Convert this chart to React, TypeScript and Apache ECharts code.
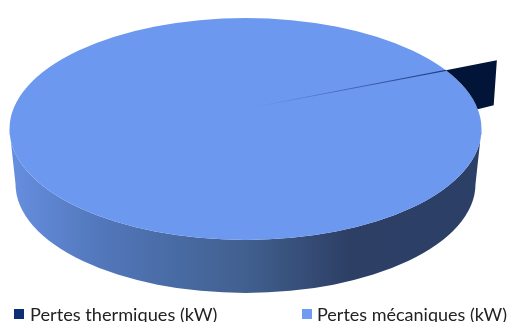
import React, { useEffect, useRef } from "react";
import * as echarts from "echarts";

const seriesNames = ["Pertes thermiques (kW)", "Pertes mécaniques (kW)"];
const seriesValues = [6, 94];
const legendColors = ["#0b2e75", "#6f9cf2"];

const CX = 245.5, CY = 129, RX = 236, RY = 111;
const BOTTOM_CY = 184, BOTTOM_RX = 230, BOTTOM_RY = 109;
const START_DEG = -31.9; // rim angle where the first slice begins (ellipse parameter)
const FULL = seriesValues.reduce((a, b) => a + b, 0);

function pt(deg: number): [number, number] {
  const a = (deg * Math.PI) / 180;
  return [CX + RX * Math.cos(a), CY + RY * Math.sin(a)];
}

function thermal() {
  const a0 = START_DEG;
  const a1 = a0 + (seriesValues[0] / FULL) * 360;
  const A = pt(a0), D = pt(a1);
  const B = [A[0] + 51, A[1] - 10];
  const C = [D[0] + 16, D[1] - 4];
  const hub = [252, 107.5];
  const wedge =
    `M${A[0]} ${A[1]} L${B[0]} ${B[1]} L${C[0]} ${C[1]} L${D[0]} ${D[1]} ` +
    `A${RX} ${RY} 0 0 0 ${A[0]} ${A[1]} Z`;
  return {
    type: "group",
    children: [
      {
        type: "path",
        shape: { pathData: wedge, x: A[0], y: B[1], width: B[0] - A[0], height: D[1] - B[1] },
        style: { fill: "#021438" },
      },
      {
        type: "polygon",
        shape: { points: [[hub[0], hub[1] - 0.15], [A[0], A[1] - 0.6], [A[0], A[1] + 0.6], [hub[0], hub[1] + 0.15]] },
        style: {
          fill: new echarts.graphic.LinearGradient(
            hub[0], 0, A[0], 0,
            [
              { offset: 0, color: "#6c98f0" },
              { offset: 0.5, color: "#4263b0" },
              { offset: 1, color: "#1c3a80" },
            ],
            true
          ),
        },
      },
    ],
  };
}

function mechanical() {
  const [lx, ly] = pt(180);
  const [rx, ry] = pt(0);
  const blx = CX - BOTTOM_RX, brx = CX + BOTTOM_RX;
  const side =
    `M${lx} ${ly} L${blx} ${BOTTOM_CY} ` +
    `A${BOTTOM_RX} ${BOTTOM_RY} 0 0 0 ${brx} ${BOTTOM_CY} ` +
    `L${rx} ${ry} ` +
    `A${RX} ${RY} 0 0 1 ${lx} ${ly} Z`;
  const top = `M${lx} ${ly} A${RX} ${RY} 0 1 1 ${rx} ${ry} A${RX} ${RY} 0 1 1 ${lx} ${ly} Z`;
  return {
    type: "group",
    children: [
      {
        type: "path",
        shape: { pathData: side, x: lx, y: CY, width: rx - lx, height: BOTTOM_CY + BOTTOM_RY - CY },
        style: {
          fill: new echarts.graphic.LinearGradient(
            lx, 0, rx, 0,
            [
              { offset: 0, color: "#668fe0" },
              { offset: 0.19, color: "#5277bb" },
              { offset: 0.5, color: "#41608f" },
              { offset: 0.72, color: "#2d3f65" },
              { offset: 1, color: "#2c3f66" },
            ],
            true
          ),
        },
      },
      {
        type: "path",
        shape: { pathData: top, x: lx, y: CY - RY, width: rx - lx, height: RY * 2 },
        style: { fill: "#6c98f0" },
      },
    ],
  };
}

const legendBase = {
  top: 305,
  itemWidth: 10,
  itemHeight: 10,
  padding: 0,
  icon: "rect",
};

export default function App() {
  const ref = useRef<HTMLDivElement>(null);
  useEffect(() => {
    const chart = echarts.init(ref.current!, null, { renderer: "svg" });
    chart.setOption({
      animation: false,
      legend: [
        {
          ...legendBase,
          left: 14,
          textStyle: { fontFamily: "Lato", fontSize: 18.2, color: "#222", padding: [0, 0, 4, 1] },
          data: [seriesNames[0]],
        },
        {
          ...legendBase,
          left: 302,
          textStyle: { fontFamily: "Lato", fontSize: 18, color: "#222", padding: [0, 0, 4, 0] },
          data: [seriesNames[1]],
        },
      ],
      series: [
        {
          type: "custom",
          name: seriesNames[1],
          coordinateSystem: "none",
          z: 1,
          data: [seriesValues[1]],
          itemStyle: { color: legendColors[1] },
          renderItem: () => mechanical(),
        },
        {
          type: "custom",
          name: seriesNames[0],
          coordinateSystem: "none",
          z: 2,
          data: [seriesValues[0]],
          itemStyle: { color: legendColors[0] },
          renderItem: () => thermal(),
        },
      ],
    });
    return () => chart.dispose();
  }, []);
  return (
    <div style={{ position: "fixed", left: 0, top: 0, width: 508, height: 322 }} ref={ref} />
  );
}
